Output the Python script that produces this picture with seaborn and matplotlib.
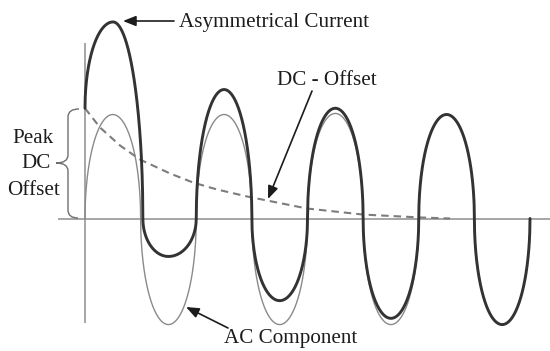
import numpy as np
import pandas as pd
import matplotlib
matplotlib.use("Agg")
import matplotlib.pyplot as plt
from matplotlib.path import Path
from matplotlib.patches import PathPatch
import seaborn as sns

# ---- waveform knots (time in cycles, current in units of the AC peak) ----
# AC component: zero crossings and extrema of the steady sinusoid
ac_t = [0.0, 0.25, 0.5, 0.75, 1.0, 1.25, 1.5, 1.75, 2.0, 2.25, 2.5, 2.75, 3.0, 3.25, 3.5, 3.75, 4.0]
ac_i = [0.0, 1.0, 0.0, -1.02, 0.0, 1.0, 0.0, -1.02, 0.0, 1.01, 0.0, -1.02, 0.0, 1.0, 0.0, -1.02, 0.0]

# Asymmetrical (total) current: starts at the peak DC offset
asym_t = [0.0, 0.252, 0.52, 0.75, 1.0, 1.25, 1.5, 1.75, 2.0, 2.25, 2.5, 2.75, 3.0, 3.25, 3.5, 3.75, 4.0]
asym_i = [1.06, 1.89, 0.0, -0.365, 0.0, 1.24, 0.0, -0.79, 0.0, 1.06, 0.0, -0.96, 0.0, 1.0, 0.0, -1.02, 0.0]

# Decaying DC offset
dc_t = [0.0, 0.135, 0.315, 0.494, 0.764, 0.971, 1.187, 1.456, 1.636, 1.996, 2.499, 3.011, 3.281]
dc_i = [1.06, 0.875, 0.702, 0.567, 0.433, 0.346, 0.279, 0.212, 0.173, 0.096, 0.038, 0.01, 0.0]

labels = {
    "asym": "Asymmetrical Current",
    "dc": "DC - Offset",
    "ac": "AC Component",
    "peak": ["Peak", "DC", "Offset"],
}

# ---- drawing geometry (canvas pixels) ----
W, H = 550, 351
ORIGIN_X, ORIGIN_Y = 85.0, 218.5
PX_PER_CYCLE, PX_PER_UNIT = 111.25, 104.0


def at(xp, yp):
    """Canvas pixel position -> (time, current) coordinates."""
    return (xp - ORIGIN_X) / PX_PER_CYCLE, (ORIGIN_Y - yp) / PX_PER_UNIT


def trace(knot_t, knot_i, n=120):
    """Join knots with rounded quarter arcs: flat at extrema, vertical at crossings."""
    ts, vs = [], []
    for k in range(len(knot_t) - 1):
        t0, t1 = knot_t[k], knot_t[k + 1]
        v0, v1 = knot_i[k], knot_i[k + 1]
        s = np.linspace(0, 1, n)
        if abs(v1) >= abs(v0):
            v = v0 + (v1 - v0) * np.sqrt(1 - (1 - s) ** 2)
        else:
            v = v1 + (v0 - v1) * np.sqrt(1 - s ** 2)
        ts.append(t0 + (t1 - t0) * s)
        vs.append(v)
    return pd.DataFrame({"t": np.concatenate(ts), "i": np.concatenate(vs)})


sns.set_theme(style="white")
plt.rcParams["font.family"] = ["Liberation Serif", "DejaVu Serif"]

fig = plt.figure(figsize=(W / 100, H / 100), dpi=100)
ax = fig.add_axes([0, 0, 1, 1])
x_lo, y_hi = at(0, 0)
x_hi, y_lo = at(W, H)

axis_col = "#8e8e8e"
ax.hlines(0, at(58, 0)[0], x_hi, color=axis_col, lw=1.1, zorder=1)
ax.vlines(0, at(0, 323)[1], at(0, 43)[1], color=axis_col, lw=1.1, zorder=1)

sns.lineplot(data=trace(ac_t, ac_i), x="t", y="i", sort=False, estimator=None,
             color="#8a8a8a", lw=1.0, ax=ax, zorder=2)
sns.lineplot(data=pd.DataFrame({"t": dc_t, "i": dc_i}), x="t", y="i", sort=False,
             estimator=None, color="#7c7c7c", lw=1.5, ax=ax, zorder=3,
             dashes=False, linestyle=(0, (3.6, 2.4)))
sns.lineplot(data=trace(asym_t, asym_i), x="t", y="i", sort=False, estimator=None,
             color="#333333", lw=2.1, ax=ax, zorder=4)
ax.set_xlim(x_lo, x_hi)
ax.set_ylim(y_lo, y_hi)
ax.set_axis_off()

# brace marking the peak DC offset
bp = [(79, 109), (68, 109), (68, 117), (68, 155), (68, 163), (56, 163),
      (68, 163), (68, 171), (68, 210), (68, 218), (78, 218)]
codes = [Path.MOVETO, Path.CURVE3, Path.CURVE3, Path.LINETO, Path.CURVE3, Path.CURVE3,
         Path.CURVE3, Path.CURVE3, Path.LINETO, Path.CURVE3, Path.CURVE3]
ax.add_patch(PathPatch(Path([at(*p) for p in bp], codes), fc="none",
                       ec="#6e6e6e", lw=1.0, zorder=2))

txt = dict(fontsize=15.2, color="#1c1c1c", va="baseline")
ax.text(*at(179, 27), labels["asym"], ha="left", **txt)
ax.text(*at(277, 85), labels["dc"], ha="left", **txt)
ax.text(*at(224, 343), labels["ac"], ha="left", **txt)
for word, (xc, yb) in zip(labels["peak"], [(33, 143), (36, 168), (34, 195)]):
    ax.text(*at(xc, yb), word, ha="center", **txt)

arrow = dict(arrowstyle="-|>,head_length=0.55,head_width=0.22", color="#1c1c1c",
             lw=1.2, mutation_scale=14, shrinkA=0, shrinkB=0)
ax.annotate("", xy=at(123, 21), xytext=at(174, 21), arrowprops=arrow, zorder=5)
ax.annotate("", xy=at(268, 199), xytext=at(312, 91), arrowprops=arrow, zorder=5)
ax.annotate("", xy=at(186, 307), xytext=at(228, 328), arrowprops=arrow, zorder=5)

fig.savefig("out.png", dpi=100, facecolor="white")
